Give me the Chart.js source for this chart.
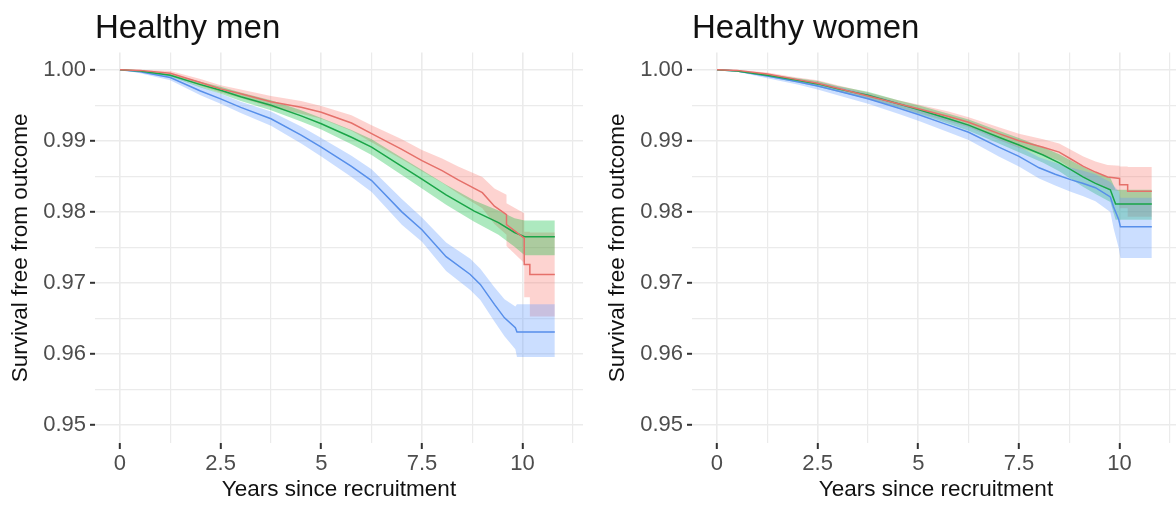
<!DOCTYPE html>
<html><head><meta charset="utf-8">
<script src="https://cdn.jsdelivr.net/npm/chart.js@4/dist/chart.umd.min.js"></script>
<style>
html,body{margin:0;padding:0;background:#fff;width:1176px;height:507px;overflow:hidden;}
.panel{position:absolute;top:0;width:590px;height:507px;}
</style></head><body>
<div class="panel" style="left:0"><canvas id="men" width="590" height="507"></canvas></div>
<div class="panel" style="left:597px"><canvas id="women" width="590" height="507"></canvas></div>
<script>
// ---------- Tick values and labels ----------
const xTickValues = [0, 1.25, 2.5, 3.75, 5, 6.25, 7.5, 8.75, 10, 11.25];
const xTickLabels = ['0', '', '2.5', '', '5', '', '7.5', '', '10', ''];
const yTickValues = [0.95, 0.955, 0.96, 0.965, 0.97, 0.975, 0.98, 0.985, 0.99, 0.995, 1.0];
const yTickLabels = ['0.95', '', '0.96', '', '0.97', '', '0.98', '', '0.99', '', '1.00'];
const panelTitles = ['Healthy men', 'Healthy women'];
const xAxisTitle = 'Years since recruitment';
const yAxisTitle = 'Survival free from outcome';

// ---------- Healthy men ----------
const menRedT  = [0, 0.5, 1.25, 2, 2.5, 3, 3.75, 4.5, 5, 5.75, 6.25, 7, 7.5, 8, 8.4, 9, 9.3, 9.6, 9.6, 10.04, 10.04, 10.18, 10.18, 10.8];
const menRedEst = [1, 0.9999, 0.9995, 0.9982, 0.9973, 0.9966, 0.9955, 0.9947, 0.9940, 0.9925, 0.9910, 0.9888, 0.9872, 0.9858, 0.9845, 0.9827, 0.9808, 0.9796, 0.9782, 0.9763, 0.9726, 0.9726, 0.9712, 0.9712];
const menRedLo  = [1, 0.9998, 0.9992, 0.9977, 0.9968, 0.9960, 0.9947, 0.9938, 0.9931, 0.9914, 0.9898, 0.9874, 0.9857, 0.9841, 0.9826, 0.9805, 0.9783, 0.9768, 0.9752, 0.9728, 0.9680, 0.9680, 0.9653, 0.9653];
const menRedHi  = [1, 1.0000, 0.9998, 0.9987, 0.9978, 0.9972, 0.9963, 0.9956, 0.9949, 0.9936, 0.9922, 0.9902, 0.9887, 0.9875, 0.9864, 0.9849, 0.9833, 0.9824, 0.9812, 0.9798, 0.9772, 0.9772, 0.9771, 0.9771];

const menGreenT   = [0, 0.5, 1.25, 2, 2.5, 3, 3.75, 4.5, 5, 5.75, 6.25, 7, 7.5, 8.1, 8.8, 9.4, 9.8, 10.05, 10.8];
const menGreenEst = [1, 0.9998, 0.9992, 0.9979, 0.9971, 0.9962, 0.9950, 0.9935, 0.9924, 0.9905, 0.9891, 0.9864, 0.9846, 0.9824, 0.9801, 0.9785, 0.9771, 0.9765, 0.9765];
const menGreenLo  = [1, 0.9997, 0.9990, 0.9975, 0.9966, 0.9956, 0.9943, 0.9927, 0.9916, 0.9895, 0.9880, 0.9852, 0.9833, 0.9810, 0.9786, 0.9768, 0.9751, 0.9739, 0.9739];
const menGreenHi  = [1, 0.9999, 0.9994, 0.9983, 0.9976, 0.9968, 0.9957, 0.9943, 0.9932, 0.9915, 0.9902, 0.9876, 0.9859, 0.9838, 0.9816, 0.9802, 0.9791, 0.9788, 0.9788];

const menBlueT   = [0, 0.5, 1.25, 2, 2.5, 3, 3.75, 4.5, 5, 5.75, 6.25, 7, 7.5, 8.1, 8.7, 8.95, 9.3, 9.55, 9.82, 9.86, 10.8];
const menBlueEst = [1, 0.9997, 0.9989, 0.9970, 0.9959, 0.9947, 0.9931, 0.9908, 0.9891, 0.9864, 0.9844, 0.9800, 0.9775, 0.9737, 0.9712, 0.9698, 0.9670, 0.9651, 0.9637, 0.9631, 0.9631];
const menBlueLo  = [1, 0.9995, 0.9985, 0.9964, 0.9952, 0.9939, 0.9921, 0.9896, 0.9878, 0.9849, 0.9828, 0.9782, 0.9758, 0.9717, 0.9690, 0.9676, 0.9646, 0.9625, 0.9607, 0.9596, 0.9596];
const menBlueHi  = [1, 0.9999, 0.9993, 0.9976, 0.9966, 0.9955, 0.9941, 0.9920, 0.9904, 0.9879, 0.9860, 0.9818, 0.9792, 0.9757, 0.9734, 0.9720, 0.9694, 0.9677, 0.9667, 0.9670, 0.9670];

// ---------- Healthy women ----------
const womenRedT   = [0, 0.5, 1.25, 2, 2.5, 3, 3.75, 4.5, 5, 5.75, 6.25, 7, 7.5, 8.1, 8.5, 8.8, 9.1, 9.4, 9.7, 10.0, 10.0, 10.2, 10.2, 10.8];
const womenRedEst = [1, 0.9999, 0.9994, 0.9986, 0.9981, 0.9974, 0.9963, 0.9952, 0.9945, 0.9934, 0.9926, 0.9910, 0.9900, 0.9891, 0.9884, 0.9874, 0.9864, 0.9856, 0.9849, 0.9847, 0.9838, 0.9838, 0.9829, 0.9829];
const womenRedLo  = [1, 0.9998, 0.9992, 0.9983, 0.9977, 0.9970, 0.9958, 0.9947, 0.9939, 0.9927, 0.9919, 0.9901, 0.9890, 0.9880, 0.9872, 0.9861, 0.9850, 0.9841, 0.9832, 0.9829, 0.9805, 0.9805, 0.9793, 0.9793];
const womenRedHi  = [1, 1.0000, 0.9996, 0.9989, 0.9985, 0.9978, 0.9968, 0.9957, 0.9951, 0.9941, 0.9933, 0.9919, 0.9910, 0.9902, 0.9896, 0.9887, 0.9878, 0.9871, 0.9866, 0.9865, 0.9864, 0.9864, 0.9863, 0.9863];

const womenGreenT   = [0, 0.5, 1.25, 2, 2.5, 3, 3.75, 4.5, 5, 5.75, 6.25, 7, 7.5, 8.1, 8.5, 8.8, 9.1, 9.4, 9.77, 9.9, 10.8];
const womenGreenEst = [1, 0.9998, 0.9992, 0.9985, 0.9980, 0.9973, 0.9964, 0.9952, 0.9944, 0.9931, 0.9922, 0.9905, 0.9894, 0.9880, 0.9869, 0.9859, 0.9849, 0.9840, 0.9831, 0.9811, 0.9811];
const womenGreenLo  = [1, 0.9997, 0.9990, 0.9982, 0.9976, 0.9969, 0.9959, 0.9947, 0.9938, 0.9924, 0.9914, 0.9896, 0.9884, 0.9869, 0.9857, 0.9846, 0.9835, 0.9825, 0.9814, 0.9789, 0.9789];
const womenGreenHi  = [1, 0.9999, 0.9994, 0.9988, 0.9984, 0.9977, 0.9969, 0.9957, 0.9950, 0.9938, 0.9930, 0.9914, 0.9904, 0.9891, 0.9881, 0.9872, 0.9863, 0.9855, 0.9848, 0.9831, 0.9831];

const womenBlueT   = [0, 0.5, 1.25, 2, 2.5, 3, 3.75, 4.5, 5, 5.75, 6.25, 7, 7.5, 8.0, 8.4, 8.8, 9.1, 9.4, 9.77, 9.85, 9.98, 10.02, 10.8];
const womenBlueEst = [1, 0.9998, 0.9991, 0.9983, 0.9977, 0.9970, 0.9959, 0.9946, 0.9937, 0.9922, 0.9912, 0.9891, 0.9878, 0.9862, 0.9853, 0.9845, 0.9840, 0.9834, 0.9821, 0.9807, 0.9789, 0.9779, 0.9779];
const womenBlueLo  = [1, 0.9997, 0.9988, 0.9979, 0.9972, 0.9964, 0.9952, 0.9938, 0.9928, 0.9912, 0.9901, 0.9878, 0.9864, 0.9847, 0.9837, 0.9828, 0.9822, 0.9815, 0.9800, 0.9777, 0.9749, 0.9735, 0.9735];
const womenBlueHi  = [1, 0.9999, 0.9994, 0.9987, 0.9982, 0.9976, 0.9966, 0.9954, 0.9946, 0.9932, 0.9923, 0.9904, 0.9892, 0.9877, 0.9869, 0.9862, 0.9858, 0.9853, 0.9842, 0.9837, 0.9829, 0.9820, 0.9820];

// ---------- Styling ----------
const FONT = "'Liberation Sans', Arial, Helvetica, sans-serif";
const STYLE = {
  red:   {line: '#E5706A', band: 'rgba(248,118,109,0.32)'},
  green: {line: '#1AA548', band: 'rgba(0,186,56,0.32)'},
  blue:  {line: '#578FEA', band: 'rgba(97,156,255,0.33)'}
};

function pts(t, v) { return t.map((x, i) => ({x: x, y: v[i]})); }

function buildDatasets(series) {
  const out = [];
  series.forEach((s) => {
    const st = STYLE[s.key];
    out.push({type: 'line', data: pts(s.t, s.est), borderColor: st.line, borderWidth: 1.5,
      pointRadius: 0, fill: false, tension: 0, order: 0});
  });
  series.forEach((s, k) => {
    const st = STYLE[s.key];
    const ord = 10 - k; // red band drawn first, blue last
    out.push({type: 'line', data: pts(s.t, s.hi), borderWidth: 0, borderColor: 'rgba(0,0,0,0)',
      pointRadius: 0, fill: false, tension: 0, order: ord});
    out.push({type: 'line', data: pts(s.t, s.lo), borderWidth: 0, borderColor: 'rgba(0,0,0,0)',
      backgroundColor: st.band, pointRadius: 0, fill: '-1', tension: 0, order: ord});
  });
  return out;
}

function makePanel(id, title, series) {
  new Chart(document.getElementById(id), {
    type: 'line',
    data: {datasets: buildDatasets(series)},
    options: {
      responsive: false, animation: false, devicePixelRatio: 1,
      layout: {padding: {left: 0, right: 7, top: 0, bottom: 0}},
      plugins: {
        legend: {display: false}, tooltip: {enabled: false},
        title: {display: true, text: title, align: 'start', fullSize: false, color: '#111',
          font: {family: FONT, size: 33, weight: 'normal'}, padding: {top: 9, bottom: 4}}
      },
      scales: {
        x: {
          type: 'linear', min: -0.62, max: 11.5,
          afterBuildTicks: sc => { sc.ticks = xTickValues.map(v => ({value: v})); },
          afterFit: sc => { sc.height = 64; },
          border: {display: false},
          grid: {color: '#ebebeb', lineWidth: c => (xTickLabels[c.index] ? 1.6 : 1.2),
            tickLength: 6, tickWidth: 2,
            tickColor: c => (xTickLabels[c.index] ? '#333' : 'rgba(0,0,0,0)')},
          ticks: {autoSkip: false, maxRotation: 0, padding: 2, color: '#4d4d4d',
            font: {family: FONT, size: 22},
            callback: (v, i) => xTickLabels[i]},
          title: {display: true, text: xAxisTitle, color: '#111',
            font: {family: FONT, size: 22.5}, padding: {top: 0, bottom: 4}}
        },
        y: {
          type: 'linear', min: 0.9475, max: 1.0024,
          afterBuildTicks: sc => { sc.ticks = yTickValues.map(v => ({value: v})); },
          afterFit: sc => { sc.width = 95; },
          border: {display: false},
          grid: {color: '#ebebeb', lineWidth: c => (yTickLabels[c.index] ? 1.6 : 1.2),
            tickLength: 5, tickWidth: 2,
            tickColor: c => (yTickLabels[c.index] ? '#333' : 'rgba(0,0,0,0)')},
          ticks: {autoSkip: false, padding: 4, color: '#4d4d4d',
            font: {family: FONT, size: 22},
            callback: (v, i) => yTickLabels[i]},
          title: {display: true, text: yAxisTitle, color: '#111',
            font: {family: FONT, size: 22.5}, padding: {top: 7, bottom: 0}}
        }
      }
    }
  });
}

makePanel('men', panelTitles[0], [
  {key: 'red',   t: menRedT,   est: menRedEst,   lo: menRedLo,   hi: menRedHi},
  {key: 'green', t: menGreenT, est: menGreenEst, lo: menGreenLo, hi: menGreenHi},
  {key: 'blue',  t: menBlueT,  est: menBlueEst,  lo: menBlueLo,  hi: menBlueHi}
]);
makePanel('women', panelTitles[1], [
  {key: 'red',   t: womenRedT,   est: womenRedEst,   lo: womenRedLo,   hi: womenRedHi},
  {key: 'green', t: womenGreenT, est: womenGreenEst, lo: womenGreenLo, hi: womenGreenHi},
  {key: 'blue',  t: womenBlueT,  est: womenBlueEst,  lo: womenBlueLo,  hi: womenBlueHi}
]);
</script>
</body></html>
